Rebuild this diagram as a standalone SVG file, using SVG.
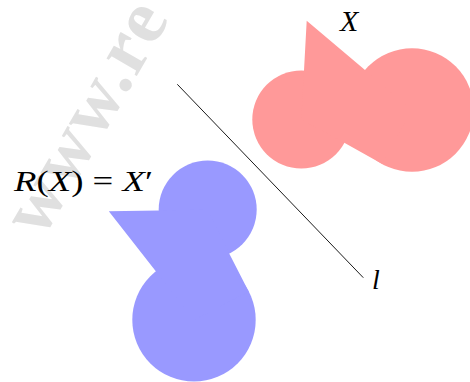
<svg xmlns="http://www.w3.org/2000/svg" width="470" height="382" viewBox="0 0 470 382">
  <style>
    .red { fill: #ff9999; }
    .blue { fill: #9999ff; }
    .math { font-family: "Liberation Serif", "DejaVu Serif", serif; font-style: italic; fill: #000; }
    .up { font-style: normal; }
    .wm { font-family: "Liberation Serif", "DejaVu Serif", serif; font-weight: bold; fill: #e0e0e0; }
  </style>
  <rect x="0" y="0" width="470" height="382" fill="#ffffff"/>
  <text class="wm" font-size="76" letter-spacing="2" transform="translate(42,240) rotate(-60)">www.re</text>

  <g id="X">
    <circle class="red" cx="301.3" cy="119.5" r="49"/>
    <circle class="red" cx="412" cy="110" r="61.7"/>
    <polygon class="red" points="306.7,20.7 304,70.6 301.3,119.5 344.3,142.7 381.8,163.7 412,110 365,70"/>
  </g>

  <g id="Xprime">
    <circle class="blue" cx="207.7" cy="209.6" r="49"/>
    <circle class="blue" cx="194" cy="319.8" r="61.7"/>
    <polygon class="blue" points="108.8,211.2 158.7,210.4 207.7,209.6 229.2,253.4 248.8,291.7 194,319.8 155.8,271.3"/>
  </g>

  <g id="connectors">
    <line id="l" x1="177.3" y1="84.3" x2="363.3" y2="277.7" stroke="#000" stroke-width="0.9"/>
  </g>

  <g id="labels">
    <text class="math" x="340" y="31" font-size="30">X</text>
    <text class="math" x="14" y="191" font-size="29" textLength="139" lengthAdjust="spacingAndGlyphs">R<tspan class="up">(</tspan>X<tspan class="up">)</tspan> <tspan class="up">=</tspan> X<tspan class="up">′</tspan></text>
    <text class="math" x="372" y="289" font-size="28">l</text>
  </g>
</svg>
